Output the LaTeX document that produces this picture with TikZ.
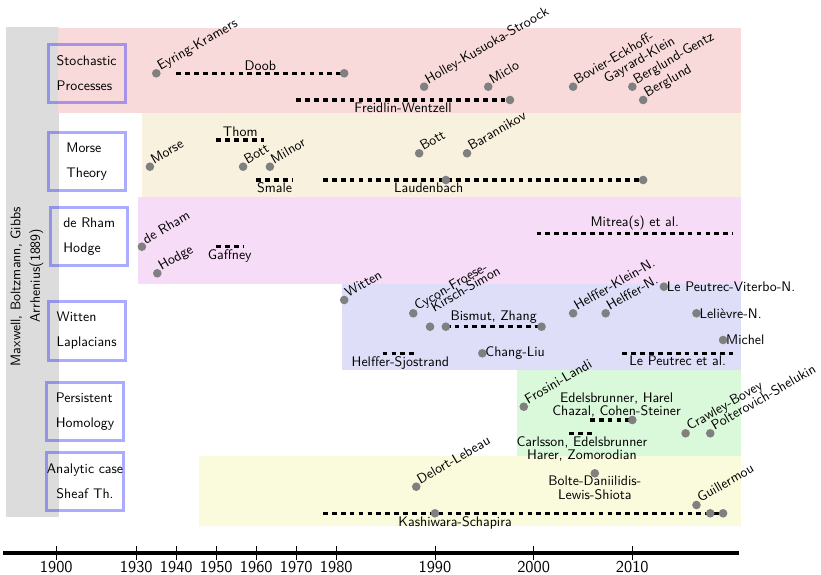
\documentclass[tikz,border=0pt]{standalone}
\usetikzlibrary{positioning}
\definecolor{physbg}{HTML}{DCDCDC}
\definecolor{stochbg}{HTML}{F8DADA}
\definecolor{morsebg}{HTML}{F8F1DE}
\definecolor{rhambg}{HTML}{F6DCF6}
\definecolor{wittenbg}{HTML}{DEDEF8}
\definecolor{persbg}{HTML}{DAF8DA}
\definecolor{sheafbg}{HTML}{FAFADC}

\begin{document}
\begin{tikzpicture}[
  x=0.72pt, y=-0.72pt,
  every node/.style={font=\sffamily},
  declare function={yr(\t)=(\t<1930)?(56.3+2.6667*(\t-1900)):((\t<1980)?(136.3+4*(\t-1930)):(336.3+9.867*(\t-1980)));},
  topic/.style={draw=blue, draw opacity=0.33, line width=2.2pt, minimum width=55.4pt,
                minimum height=41.8pt, inner sep=0pt, align=left},
  event/.style={circle, fill=gray, inner sep=0pt, minimum size=6.2pt},
  tag/.style={rotate=30, anchor=base west},
  note/.style={anchor=west, inner sep=2pt},
  period/.style={line width=2.2pt, dash pattern=on 3.4pt off 3pt},
  plab/.style={inner sep=1pt, align=center},
]
\useasboundingbox (0,0) rectangle (821,575);

% bands
\fill[physbg] (6,26.7) rectangle (59.3,516.7);
\fill[stochbg] (58.3,28) rectangle (740.7,113.3);
\fill[morsebg] (142.3,113.3) rectangle (740.7,196.7);
\fill[rhambg] (138,196.7) rectangle (740.7,283.7);
\fill[wittenbg] (342,283.7) rectangle (740.7,370);
\fill[persbg] (516.7,370) rectangle (740.7,456.3);
\fill[sheafbg] (199,456.3) rectangle (740.7,525.7);

\node[rotate=90, align=center] (phys) at (27,286.7)
  {Maxwell, Boltzmann, Gibbs\\[2pt]\hspace*{1.6em}Arrhenius(1889)};

% topics
\node[topic] (stoch) at (86.7,73.3) {Stochastic\\[6pt]Processes};
\node[topic] (morse) at (86.7,161.7) {Morse\\[6pt]Theory};
\node[topic] (rham) at (89.2,236.7) {de Rham\\[6pt]Hodge};
\node[topic] (witten) at (86.7,331) {Witten\\[6pt]Laplacians};
\node[topic] (pers) at (85,411.7) {Persistent\\[6pt]Homology};
\node[topic, align=center] (sheaf) at (85,481.5) {Analytic case\\[6pt]Sheaf Th.};

% time axis
\coordinate (axL) at (3,553);
\coordinate (axR) at (739,553);
\draw[line width=2.2pt] (axL) -- (axR);
\foreach \d in {1900,1930,1940,1950,1960,1970,1980,1990,2000,2010} {
  \draw[line width=0.6pt] ({yr(\d)},546) -- ({yr(\d)},559.5);
  \node[font=\sffamily\large] (tick\d) at ({yr(\d)},567.5) {\d};
}

% stochastic processes
\coordinate (doobA) at ({yr(1940)},73.3);
\coordinate (doobB) at ({yr(1980.8)},73.3);
\draw[period] (doobA) -- node[above, plab] (doobT) {Doob} (doobB);
\coordinate (fwA) at ({yr(1970)},100);
\coordinate (fwB) at ({yr(1997.6)},100);
\draw[period] (fwA) -- node[below, plab] (fwT) {Freidlin-Wentzell} (fwB);
\node[event] (doob) at (doobB) {};
\node[event] (fw) at (fwB) {};
\node[event] (ek) at ({yr(1935)},73.3) {};
\node[tag] (ekT) at (ek.center) {Eyring-Kramers};
\node[event] (hks) at ({yr(1988.9)},86.7) {};
\node[tag] (hksT) at (hks.center) {Holley-Kusuoka-Stroock};
\node[event] (miclo) at ({yr(1995.4)},86.7) {};
\node[tag] (micloT) at (miclo.center) {Miclo};
\node[event] (begk) at ({yr(2004)},86.7) {};
\node[tag] (begkT) at (begk.center)
  {\begin{tabular}[t]{@{}l@{}}Bovier-Eckhoff-\\[-2pt]\hspace*{1.9em}Gayrard-Klein\end{tabular}};
\node[event] (bg) at ({yr(2010)},86.7) {};
\node[tag] (bgT) at (bg.center) {Berglund-Gentz};
\node[event] (berg) at ({yr(2011.1)},100) {};
\node[tag] (bergT) at (berg.center) {Berglund};

% Morse theory
\coordinate (thomA) at ({yr(1950)},140);
\coordinate (thomB) at ({yr(1962)},140);
\draw[period] (thomA) -- node[above, plab] (thomT) {Thom} (thomB);
\coordinate (smaleA) at ({yr(1960)},180);
\coordinate (smaleB) at ({yr(1969.2)},180);
\draw[period] (smaleA) -- node[below, plab] (smaleT) {Smale} (smaleB);
\coordinate (laudA) at ({yr(1976.7)},180);
\coordinate (laudB) at ({yr(2011.1)},180);
\draw[period] (laudA) -- node[below, plab, pos=0.33] (laudT) {Laudenbach} (laudB);
\node[event] (laud1) at ({yr(1991.1)},180) {};
\node[event] (laud2) at (laudB) {};
\node[event] (mo) at ({yr(1933.4)},166.7) {};
\node[tag] (moT) at (mo.center) {Morse};
\node[event] (bott) at ({yr(1956.7)},166.7) {};
\node[tag] (bottT) at (bott.center) {Bott};
\node[event] (milnor) at ({yr(1963.4)},166.7) {};
\node[tag] (milnorT) at (milnor.center) {Milnor};
\node[event] (bottb) at ({yr(1988.4)},153.3) {};
\node[tag] (bottbT) at (bottb.center) {Bott};
\node[event] (baran) at ({yr(1993.25)},153.3) {};
\node[tag] (baranT) at (baran.center) {Barannikov};

% de Rham, Hodge
\coordinate (gafA) at ({yr(1950)},246.7);
\coordinate (gafB) at ({yr(1956.7)},246.7);
\draw[period] (gafA) -- node[below, plab] (gafT) {Gaffney} (gafB);
\coordinate (mitA) at ({yr(2000.3)},233.3);
\coordinate (mitB) at ({yr(2020.2)},233.3);
\draw[period] (mitA) -- node[above, plab] (mitT) {Mitrea(s) et al.} (mitB);
\node[event] (dr) at ({yr(1931.4)},246.7) {};
\node[tag] (drT) at (dr.center) {de Rham};
\node[event] (hodge) at ({yr(1935.25)},273.3) {};
\node[tag] (hodgeT) at (hodge.center) {Hodge};

% Witten Laplacians
\coordinate (bzA) at ({yr(1991.1)},326.7);
\coordinate (bzB) at ({yr(2000.8)},326.7);
\draw[period] (bzA) -- node[above, plab] (bzT) {Bismut, Zhang} (bzB);
\coordinate (hsA) at ({yr(1984.7)},353.3);
\coordinate (hsB) at ({yr(1988.3)},353.3);
\draw[period] (hsA) -- node[below, plab] (hsT) {Helffer-Sjostrand} (hsB);
\coordinate (lpA) at ({yr(2009)},353.3);
\coordinate (lpB) at ({yr(2020.2)},353.3);
\draw[period] (lpA) -- node[below, plab] (lpT) {Le Peutrec et al.} (lpB);
\node[event] (bz0) at ({yr(1989.5)},326.7) {};
\node[event] (bz1) at (bzA) {};
\node[event] (bz2) at (bzB) {};
\node[event] (wi) at ({yr(1980.8)},300) {};
\node[tag] (wiT) at (wi.center) {Witten};
\node[event] (cfks) at ({yr(1987.8)},313.3) {};
\node[tag] (cfksT) at (cfks.center)
  {\begin{tabular}[t]{@{}l@{}}Cycon-Froese-\\[-5pt]\hspace*{1em}Kirsch-Simon\end{tabular}};
\node[event] (hkn) at ({yr(2004)},313.3) {};
\node[tag] (hknT) at (hkn.center) {Helffer-Klein-N.};
\node[event] (hn) at ({yr(2007.3)},313.3) {};
\node[tag] (hnT) at (hn.center) {Helffer-N.};
\node[event] (lpvn) at ({yr(2013.2)},286.7) {};
\node[note] (lpvnT) at (lpvn.center) {Le Peutrec-Viterbo-N.};
\node[event] (ln) at ({yr(2016.5)},313.3) {};
\node[note] (lnT) at (ln.center) {Lelièvre-N.};
\node[event] (mich) at ({yr(2019.2)},340) {};
\node[note] (michT) at (mich.center) {Michel};
\node[event] (cl) at ({yr(1994.8)},353.3) {};
\node[note] (clT) at (cl.center) {Chang-Liu};

% persistent homology
\coordinate (ehA) at ({yr(2005.7)},420);
\coordinate (ehB) at ({yr(2010)},420);
\draw[period] (ehA) -- node[above, plab, pos=0.63] (ehT)
  {Edelsbrunner, Harel\\[-2.5pt]Chazal, Cohen-Steiner} (ehB);
\coordinate (ceA) at ({yr(2003.6)},433.3);
\coordinate (ceB) at ({yr(2006.2)},433.3);
\draw[period] (ceA) -- node[below, plab] (ceT)
  {Carlsson, Edelsbrunner\\[-2.5pt]Harer, Zomorodian} (ceB);
\node[event] (eh) at (ehB) {};
\node[event] (fl) at ({yr(1999)},406.7) {};
\node[tag] (flT) at (fl.center) {Frosini-Landi};
\node[event] (cb) at ({yr(2015.4)},433.3) {};
\node[tag] (cbT) at (cb.center) {Crawley-Bovey};
\node[event] (ps) at ({yr(2017.9)},433.3) {};
\node[tag] (psT) at (ps.center) {Polterovich-Shelukin};

% analytic case, sheaf theory
\coordinate (ksA) at ({yr(1976.7)},513.3);
\coordinate (ksB) at ({yr(2019.2)},513.3);
\draw[period] (ksA) -- node[below, plab, pos=0.33] (ksT) {Kashiwara-Schapira} (ksB);
\node[event] (ks1) at ({yr(1990)},513.3) {};
\node[event] (ks2) at ({yr(2017.9)},513.3) {};
\node[event] (ks3) at (ksB) {};
\node[event] (dl) at ({yr(1988.1)},486.7) {};
\node[tag] (dlT) at (dl.center) {Delort-Lebeau};
\node[event] (bdls) at ({yr(2006.2)},473.3) {};
\node[below, plab, inner sep=2pt] (bdlsT) at (bdls.center)
  {Bolte-Daniilidis-\\[-2.5pt]Lewis-Shiota};
\node[event] (guil) at ({yr(2016.5)},505) {};
\node[tag] (guilT) at (guil.center) {Guillermou};

\end{tikzpicture}
\end{document}
